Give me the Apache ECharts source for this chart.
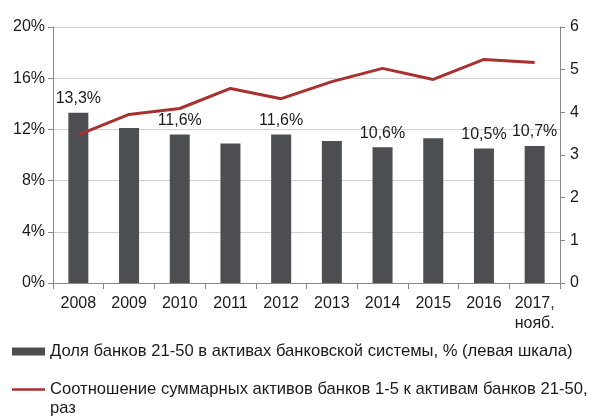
<!DOCTYPE html>
<html lang="ru">
<head>
    <meta charset="UTF-8">
    <title>Доля банков 21-50</title>
    <script src="https://cdn.jsdelivr.net/npm/echarts@6/dist/echarts.min.js"></script>
    <style>
        html, body { margin: 0; padding: 0; background: #fff; }
        #main { width: 600px; height: 419px; }
    </style>
</head>
<body>
<div id="main"></div>
<script type="text/javascript">
    // данные
    var years = ['2008', '2009', '2010', '2011', '2012', '2013', '2014', '2015', '2016', '2017,\nнояб.'];
    var share = [13.3, 12.1, 11.6, 10.9, 11.6, 11.1, 10.6, 11.3, 10.5, 10.7];
    var ratio = [3.47, 3.95, 4.09, 4.56, 4.32, 4.72, 5.03, 4.77, 5.24, 5.17];
    var labelShown = [true, false, true, false, true, false, true, false, true, true];
    var barName = 'Доля банков 21-50 в активах банковской системы, % (левая шкала)';
    var lineName = 'Соотношение суммарных активов банков 1-5 к активам банков 21-50,';

    var font = 'Liberation Sans, Arial, sans-serif';
    var myChart = echarts.init(document.getElementById('main'));

    var option = {
        animation: false,
        textStyle: { fontFamily: font },
        grid: { left: 53, right: 40, top: 27, bottom: 136 },
        legend: {
            orient: 'vertical',
            left: 12,
            top: 343,
            padding: 0,
            itemGap: 21,
            itemWidth: 33,
            itemHeight: 8,
            symbolKeepAspect: true,
            textStyle: { fontSize: 16.6, color: '#1a1a1a', fontFamily: font },
            data: [
                { name: barName, icon: 'rect' },
                { name: lineName, icon: 'path://M0,0H33V2.4H0Z' }
            ]
        },
        graphic: [{
            type: 'text',
            left: 50,
            top: 400,
            style: { text: 'раз', fontSize: 16.6, fill: '#1a1a1a', fontFamily: font }
        }],
        xAxis: {
            type: 'category',
            data: years,
            axisLine: { lineStyle: { color: '#888' } },
            axisTick: { show: true, interval: 0, length: 6, lineStyle: { color: '#888' } },
            axisLabel: { fontSize: 16, color: '#1a1a1a', margin: 11, interval: 0, lineHeight: 20 }
        },
        yAxis: [{
            type: 'value',
            min: 0,
            max: 20,
            interval: 4,
            axisLine: { show: true, lineStyle: { color: '#888' } },
            axisTick: { show: true, length: 5, lineStyle: { color: '#888' } },
            splitLine: { lineStyle: { color: '#d0d0d0' } },
            axisLabel: { fontSize: 16, color: '#1a1a1a', margin: 8, formatter: '{value}%' }
        }, {
            type: 'value',
            min: 0,
            max: 6,
            interval: 1,
            position: 'right',
            axisLine: { show: true, lineStyle: { color: '#888' } },
            axisTick: { show: true, length: 5, lineStyle: { color: '#888' } },
            splitLine: { show: false },
            axisLabel: { fontSize: 16, color: '#1a1a1a', margin: 10 }
        }],
        series: [{
            name: barName,
            type: 'bar',
            yAxisIndex: 0,
            barWidth: 20,
            itemStyle: { color: '#4c4e51' },
            data: share.map(function (v, i) {
                return {
                    value: v,
                    label: {
                        show: labelShown[i],
                        position: 'top',
                        distance: 6,
                        fontSize: 16,
                        color: '#1a1a1a',
                        formatter: function (p) { return String(p.value).replace('.', ',') + '%'; }
                    }
                };
            })
        }, {
            name: lineName,
            type: 'line',
            yAxisIndex: 1,
            symbol: 'none',
            lineStyle: { color: '#a8302f', width: 3 },
            itemStyle: { color: '#a8302f' },
            data: ratio
        }]
    };

    myChart.setOption(option);
</script>
</body>
</html>
